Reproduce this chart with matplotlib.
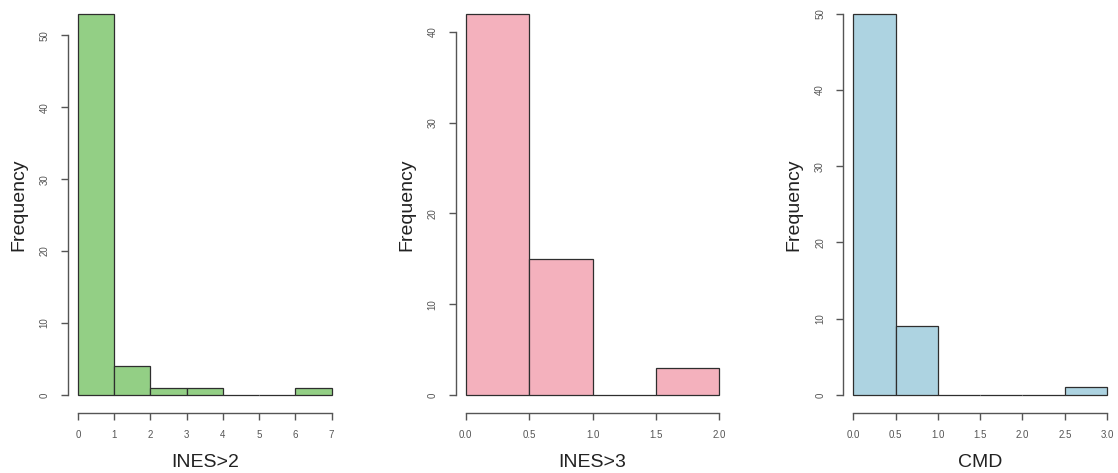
import numpy as np
import matplotlib.pyplot as plt

plt.rcParams['font.family'] = ['Liberation Sans', 'DejaVu Sans']

# histogram bin edges and counts
ines2_edges = [0, 1, 2, 3, 4, 5, 6, 7]
ines2_counts = [53, 4, 1, 1, 0, 0, 1]
ines3_edges = [0.0, 0.5, 1.0, 1.5, 2.0]
ines3_counts = [42, 15, 0, 3]
cmd_edges = [0.0, 0.5, 1.0, 1.5, 2.0, 2.5, 3.0]
cmd_counts = [50, 9, 0, 0, 0, 1]

ines2_yticks = [0, 10, 20, 30, 40, 50]
ines3_yticks = [0, 10, 20, 30, 40]
cmd_yticks = [0, 10, 20, 30, 40, 50]

ines2_xticks = [0, 1, 2, 3, 4, 5, 6, 7]
ines3_xticks = [0.0, 0.5, 1.0, 1.5, 2.0]
cmd_xticks = [0.0, 0.5, 1.0, 1.5, 2.0, 2.5, 3.0]

panels = [
    ("INES>2", ines2_edges, ines2_counts, ines2_xticks, ines2_yticks, "#93cf85", "{:.0f}"),
    ("INES>3", ines3_edges, ines3_counts, ines3_xticks, ines3_yticks, "#f4b1bd", "{:.1f}"),
    ("CMD", cmd_edges, cmd_counts, cmd_xticks, cmd_yticks, "#add3e1", "{:.1f}"),
]

W, H = 1118, 473
fig = plt.figure(figsize=(W / 100, H / 100), dpi=100)

lefts = [67.8, 455.6, 843.2]
ax_w = 274.0
bottom_px = 410.3   # from top
top_px = -1.6

axis_col = "#555555"

for left, (label, edges, counts, xticks, yticks, color, fmt) in zip(lefts, panels):
    ax = fig.add_axes([left / W, (H - bottom_px) / H, ax_w / W, (bottom_px - top_px) / H])
    edges = np.array(edges, dtype=float)
    widths = np.diff(edges)
    ax.bar(edges[:-1], counts, width=widths, align="edge", color=color,
           edgecolor="#2e2e2e", linewidth=0.9)

    # R style 4% padding
    xr = edges[-1] - edges[0]
    ymax = max(counts)
    ax.set_xlim(edges[0] - 0.04 * xr, edges[-1] + 0.04 * xr)
    ax.set_ylim(-0.04 * ymax, 1.04 * ymax)

    for s in ["top", "right"]:
        ax.spines[s].set_visible(False)
    ax.spines["left"].set_bounds(yticks[0], yticks[-1])
    ax.spines["bottom"].set_bounds(xticks[0], xticks[-1])
    ax.spines["bottom"].set_position(("outward", 2))
    for s in ["left", "bottom"]:
        ax.spines[s].set_color(axis_col)
        ax.spines[s].set_linewidth(1.0)

    ax.set_xticks(xticks)
    ax.set_xticklabels([fmt.format(v) for v in xticks])
    ax.set_yticks(yticks)
    ax.set_yticklabels([str(v) for v in yticks], rotation=90, va="center")
    ax.tick_params(axis="both", colors=axis_col, labelcolor="#555555",
                   labelsize=7, length=5, width=1.0, pad=8)
    ax.tick_params(axis="x", pad=7)

    ax.set_xlabel(label, fontsize=14, color="#222222", labelpad=10)
    ax.set_ylabel("Frequency", fontsize=14, color="#222222", labelpad=9)

fig.savefig("out.png", dpi=100)
